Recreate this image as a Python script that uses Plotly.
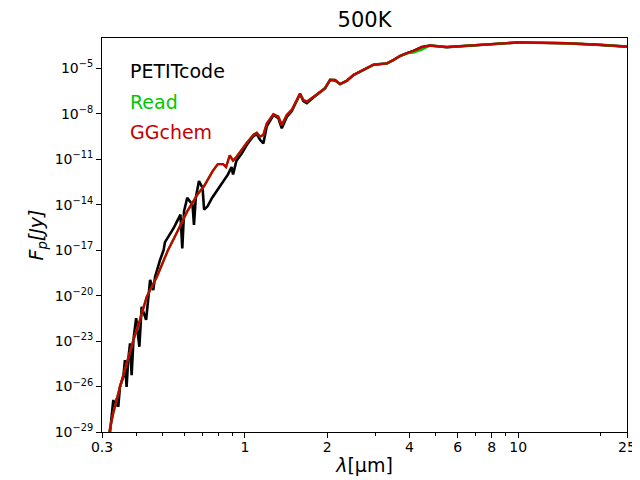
import plotly.graph_objects as go

# wavelengths in micron, fluxes in Jy
petit_wl = [0.321, 0.330, 0.335, 0.340, 0.344, 0.349, 0.359, 0.364, 0.369, 0.374,
            0.380, 0.385, 0.391, 0.400, 0.411, 0.419, 0.435, 0.450, 0.462, 0.469,
            0.489, 0.504, 0.510, 0.528, 0.549, 0.565, 0.581, 0.590, 0.599, 0.615,
            0.643, 0.651, 0.661, 0.679, 0.700, 0.709, 0.730, 0.758, 0.796, 0.867,
            0.893, 0.905, 0.931, 0.972, 1.015, 1.074, 1.105, 1.136, 1.168, 1.202,
            1.271, 1.325, 1.364, 1.423, 1.484, 1.548, 1.591, 1.636, 1.684, 1.780,
            1.883, 1.964, 2.049, 2.137, 2.229, 2.359, 2.494, 2.637, 2.791, 2.950,
            3.121, 3.303, 3.491, 3.694, 3.908, 4.132, 4.436, 4.757, 5.474, 6.481,
            8.577, 10.15, 11.36, 15.05, 19.92, 25.0]
petit_flux = [1.0e-29, 1.3e-27, 4.6e-28, 1.7e-27, 4.6e-28, 9.5e-27, 4.4e-26, 5.6e-25, 9.5e-27, 5.6e-25,
              7.1e-24, 5.7e-26, 1.2e-23, 3.2e-22, 4.2e-24, 1.8e-21, 2.5e-22, 1.1e-19, 2.3e-20, 1.7e-19,
              2.2e-18, 1.0e-17, 3.4e-17, 8.5e-17, 2.9e-16, 8.3e-16, 2.2e-15, 1.3e-17, 3.8e-15, 2.8e-14,
              1.0e-14, 4.6e-16, 2.8e-14, 3.6e-13, 1.3e-13, 4.7e-15, 7.8e-15, 2.8e-14, 1.0e-13, 1.0e-12,
              3.0e-12, 1.0e-12, 8.1e-12, 2.3e-11, 8.7e-11, 3.4e-10, 4.6e-10, 1.9e-10, 1.1e-10, 1.5e-09,
              8.3e-09, 5.2e-09, 1.1e-09, 6.1e-09, 1.5e-08, 6.9e-08, 2.0e-07, 6.9e-08, 5.1e-08, 1.2e-07,
              2.5e-07, 4.8e-07, 1.7e-06, 1.6e-06, 9.1e-07, 1.5e-06, 3.6e-06, 6.0e-06, 1.0e-05, 1.7e-05,
              1.9e-05, 2.1e-05, 3.5e-05, 6.5e-05, 9.8e-05, 1.4e-04, 2.5e-04, 3.2e-04, 2.5e-04, 3.0e-04,
              4.5e-04, 5.2e-04, 4.9e-04, 4.5e-04, 3.5e-04, 2.7e-04]

ggchem_wl = [0.319, 0.330, 0.349, 0.369, 0.391, 0.413, 0.437, 0.476, 0.523, 0.565,
             0.615, 0.671, 0.709, 0.763, 0.796, 0.832, 0.853, 0.880, 0.905, 0.931,
             0.972, 1.015, 1.074, 1.105, 1.136, 1.168, 1.202, 1.271, 1.325, 1.364,
             1.423, 1.484, 1.548, 1.591, 1.636, 1.684, 1.780, 1.883, 1.964, 2.049,
             2.137, 2.229, 2.359, 2.494, 2.637, 2.791, 2.950, 3.121, 3.303, 3.491,
             3.694, 3.908, 4.132, 4.436, 4.757, 5.474, 6.481, 8.577, 10.15, 11.36,
             15.05, 19.92, 25.0]
ggchem_flux = [1.0e-29, 1.8e-28, 9.5e-27, 3.4e-25, 1.2e-23, 2.5e-22, 8.3e-21, 1.7e-19, 1.0e-17, 1.6e-16,
               3.6e-15, 4.8e-14, 1.7e-13, 1.7e-12, 4.8e-12, 4.8e-12, 3.0e-12, 1.8e-11, 8.1e-12, 1.4e-11,
               4.1e-11, 1.2e-10, 4.0e-10, 5.6e-10, 3.1e-10, 4.0e-10, 2.3e-09, 9.5e-09, 6.5e-09, 1.8e-09,
               8.3e-09, 1.8e-08, 8.1e-08, 2.2e-07, 8.1e-08, 6.3e-08, 1.3e-07, 2.9e-07, 4.8e-07, 1.7e-06,
               1.7e-06, 9.1e-07, 1.5e-06, 3.6e-06, 6.0e-06, 1.0e-05, 1.7e-05, 1.9e-05, 2.1e-05, 3.5e-05,
               6.5e-05, 9.8e-05, 1.4e-04, 2.5e-04, 3.2e-04, 2.5e-04, 3.0e-04, 4.5e-04, 5.2e-04, 4.9e-04,
               4.5e-04, 3.5e-04, 2.7e-04]

# Read model sits under GGchem almost everywhere, a little lower near 4-4.5 micron
read_wl = ggchem_wl
read_flux = [1.0e-29, 1.8e-28, 9.5e-27, 3.4e-25, 1.2e-23, 2.5e-22, 8.3e-21, 1.7e-19, 1.0e-17, 1.6e-16,
             3.6e-15, 4.8e-14, 1.7e-13, 1.7e-12, 4.8e-12, 4.8e-12, 3.0e-12, 1.8e-11, 8.1e-12, 1.4e-11,
             4.1e-11, 1.2e-10, 4.0e-10, 5.6e-10, 3.1e-10, 4.0e-10, 2.3e-09, 9.5e-09, 6.5e-09, 1.8e-09,
             8.3e-09, 1.8e-08, 8.1e-08, 2.2e-07, 8.1e-08, 6.3e-08, 1.3e-07, 2.9e-07, 4.8e-07, 1.7e-06,
             1.7e-06, 9.1e-07, 1.5e-06, 3.6e-06, 6.0e-06, 1.0e-05, 1.7e-05, 1.9e-05, 2.1e-05, 3.5e-05,
             6.5e-05, 9.8e-05, 1.1e-04, 1.7e-04, 3.2e-04, 2.5e-04, 3.0e-04, 4.5e-04, 5.2e-04, 4.9e-04,
             4.5e-04, 3.5e-04, 2.7e-04]

x_ticks = [0.3, 1, 2, 4, 6, 8, 10, 25]
x_ticktext = ["0.3", "1", "2", "4", "6", "8", "10", "25"]
x_minor = [0.4, 0.5, 0.6, 0.7, 0.8, 0.9, 3, 5, 7, 9, 20]
y_ticks = [1e-29, 1e-26, 1e-23, 1e-20, 1e-17, 1e-14, 1e-11, 1e-8, 1e-5]
y_ticktext = ["10<sup>−29</sup>", "10<sup>−26</sup>", "10<sup>−23</sup>", "10<sup>−20</sup>",
              "10<sup>−17</sup>", "10<sup>−14</sup>", "10<sup>−11</sup>", "10<sup>−8</sup>",
              "10<sup>−5</sup>"]

names = ["PETITcode", "Read", "GGchem"]
colors = ["#000000", "#00c800", "#c80000"]

fig = go.Figure()
fig.add_trace(go.Scatter(x=petit_wl, y=petit_flux, mode="lines", name=names[0],
                         line=dict(color=colors[0], width=2.6)))
fig.add_trace(go.Scatter(x=read_wl, y=read_flux, mode="lines", name=names[1],
                         line=dict(color=colors[1], width=2.3)))
fig.add_trace(go.Scatter(x=ggchem_wl, y=ggchem_flux, mode="lines", name=names[2],
                         line=dict(color=colors[2], width=2.3)))

# legend written as coloured text, like the original
for i, (n, c) in enumerate(zip(names, colors)):
    fig.add_annotation(text=n, xref="paper", yref="paper", x=0.05, y=0.915 - i * 0.077,
                       xanchor="left", yanchor="middle", showarrow=False,
                       font=dict(size=19, color=c))

axis_font = dict(family="DejaVu Sans", size=14, color="black")

# the page keeps its 8px body margin, so margins are shifted by 8px
fig.update_layout(
    width=640, height=480,
    margin=dict(l=94, r=21, t=30, b=56),
    plot_bgcolor="white", paper_bgcolor="white",
    showlegend=False,
    font=dict(family="DejaVu Sans", color="black"),
    title=dict(text="500K", x=0.557, xanchor="center", y=0.975, yanchor="middle",
               font=dict(size=21, color="black")),
    xaxis=dict(type="log", range=[-0.5229, 1.3979], showgrid=False, zeroline=False,
               showline=True, linecolor="black", linewidth=1, mirror=True,
               tickmode="array", tickvals=x_ticks, ticktext=x_ticktext,
               ticks="outside", ticklen=5, tickwidth=1, tickcolor="black", tickfont=axis_font,
               ticklabelstandoff=-3,
               minor=dict(tickmode="array", tickvals=x_minor, ticks="outside",
                          ticklen=3, tickwidth=1, tickcolor="black", showgrid=False),
               title=dict(text="<i>λ</i>[μm]", font=dict(size=19), standoff=4)),
    yaxis=dict(type="log", range=[-29, -3], showgrid=False, zeroline=False,
               showline=True, linecolor="black", linewidth=1, mirror=True,
               tickmode="array", tickvals=y_ticks, ticktext=y_ticktext,
               ticks="outside", ticklen=5, tickwidth=1, tickcolor="black", tickfont=axis_font,
               title=dict(text="<i>F<sub>p</sub>[Jy]</i>", font=dict(size=19), standoff=6)),
)

# no scrollbars, no modebar
fig.write_html("out.html", config={"displayModeBar": False},
               post_script="document.documentElement.style.overflow = 'hidden';")
